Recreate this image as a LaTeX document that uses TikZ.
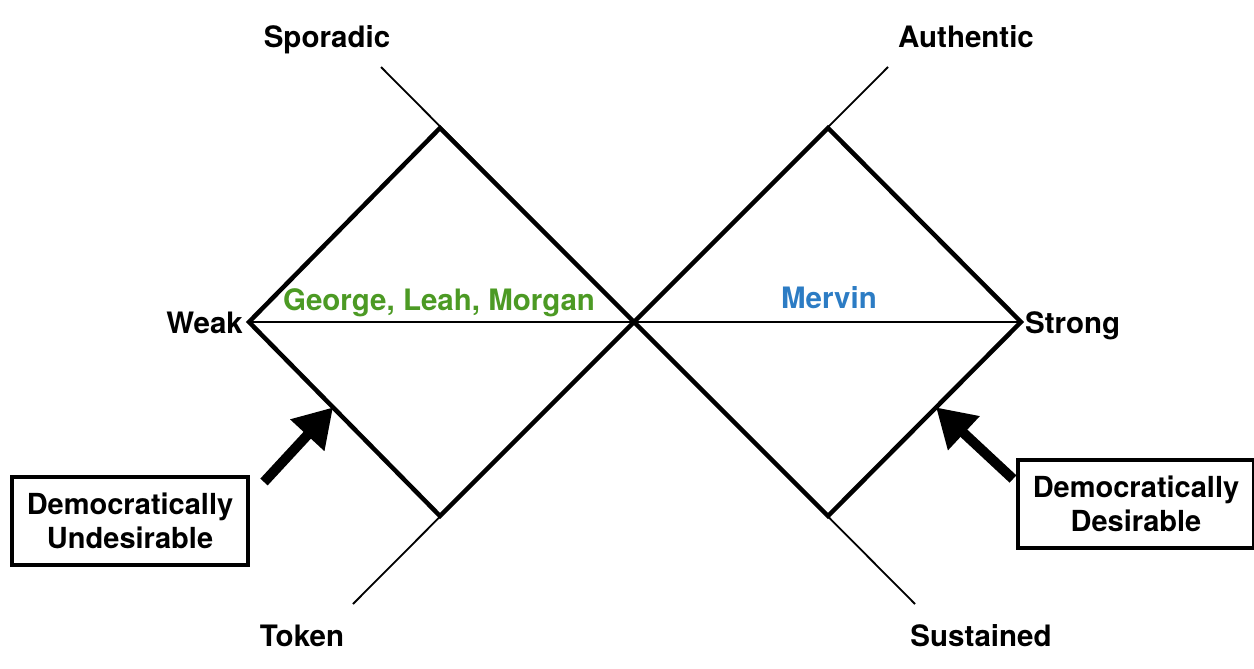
\documentclass[tikz,border=0pt]{standalone}
\usepackage{fontspec}
\setmainfont{TeX Gyre Heros}
\usetikzlibrary{arrows.meta,calc}
\definecolor{namegreen}{RGB}{76,154,36}
\definecolor{nameblue}{RGB}{44,124,196}
\begin{document}
\begin{tikzpicture}[x=1pt,y=-1pt,
  thinline/.style={line width=1.8pt},
  thickline/.style={line width=4.5pt, line join=miter},
  lbl/.style={font=\fontsize{29.5}{34}\selectfont\bfseries, inner sep=0pt, anchor=base},
  callout/.style={draw, line width=3.5pt, minimum width=236pt, minimum height=88pt,
    align=center, font=\fontsize{29}{34}\selectfont\bfseries, inner sep=0pt},
  bigarrow/.style={line width=10pt, -{Triangle[length=38pt,width=44pt]}}]
\useasboundingbox (0,0) rectangle (1254,669);

% vertices of the two diamonds
\coordinate (weak) at (249,322);
\coordinate (mid) at (634,322);
\coordinate (strong) at (1021,322);
\coordinate (ltop) at (440,128);
\coordinate (lbot) at (440,516);
\coordinate (rtop) at (828,128);
\coordinate (rbot) at (828,516);
% free ends of the diagonal axes
\coordinate (spEnd) at (381,67);
\coordinate (suEnd) at (915,604);
\coordinate (toEnd) at (353,604);
\coordinate (auEnd) at (888,67);

% axes
\draw[thinline] (weak) -- (strong);
\draw[thinline] (spEnd) -- (suEnd);
\draw[thinline] (toEnd) -- (auEnd);

% diamonds
\draw[thickline] (weak) -- (ltop) -- (mid) -- (lbot) -- cycle;
\draw[thickline] (mid) -- (rtop) -- (strong) -- (rbot) -- cycle;

% axis labels
\node[lbl] (sporadic) at (327,48) {Sporadic};
\node[lbl] (authentic) at (966,48) {Authentic};
\node[lbl] (token) at (302,646) {Token};
\node[lbl] (sustained) at (981,646) {Sustained};
\node[lbl, anchor=base east] (weaklbl) at (243,333) {Weak};
\node[lbl, anchor=base west] (stronglbl) at (1025,333) {Strong};

% names inside the diamonds
\node[lbl, text=namegreen] (names) at (439,310) {George, Leah, Morgan};
\node[lbl, text=nameblue] (mervin) at (829,308) {Mervin};

% callout boxes
\node[callout] (undes) at (130,521) {Democratically\\Undesirable};
\node[callout] (des) at (1136,504) {Democratically\\Desirable};

% arrows pointing at the diamond edges
\coordinate (ltip) at ($(weak)!0.44!(lbot)$);
\coordinate (ltail) at (264,482);
\coordinate (rtip) at ($(strong)!0.44!(rbot)$);
\coordinate (rtail) at (1013,479);
\draw[bigarrow] (ltail) -- (ltip);
\draw[bigarrow] (rtail) -- (rtip);
\end{tikzpicture}
\end{document}
